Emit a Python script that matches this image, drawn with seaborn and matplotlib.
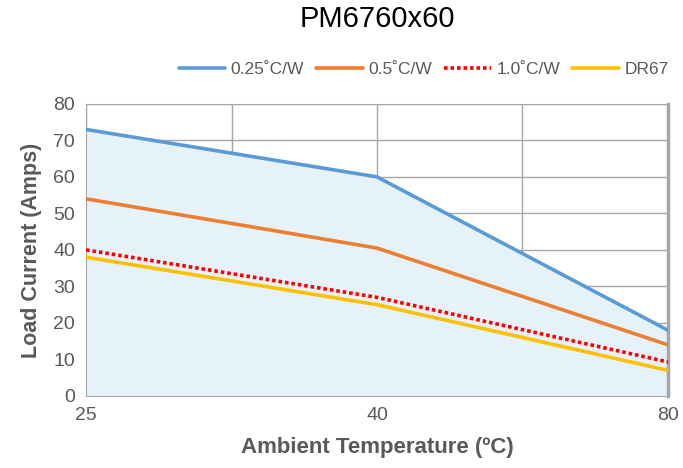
import matplotlib
matplotlib.use("Agg")
import matplotlib.pyplot as plt
import seaborn as sns
import pandas as pd

# data
temps = ["25", "40", "80"]
series_names = ["0.25˚C/W", "0.5˚C/W", "1.0˚C/W", "DR67"]
hs_025 = [73, 60, 18]
hs_05 = [54, 40.5, 14]
hs_10 = [40, 27, 9.3]
dr67 = [38, 25, 7]

colors = ["#5b9bd5", "#ed7d31", "#ff0000", "#ffc000"]

sns.set_style("white")
plt.rcParams["font.family"] = ["Liberation Sans", "DejaVu Sans"]

df = pd.DataFrame({"pos": range(len(temps))})
for name, vals in zip(series_names, [hs_025, hs_05, hs_10, dr67]):
    df[name] = vals
long = df.melt(id_vars="pos", var_name="series", value_name="amps")

fig = plt.figure(figsize=(6.83, 4.68), dpi=100)
ax = fig.add_axes([0.126, 0.154, 0.852, 0.624])

# shaded region under the 0.25 line
ax.fill_between(df["pos"], 0, df[series_names[0]], color="#e6f2fa", zorder=1)

for name, c in zip(series_names, colors):
    sub = long[long["series"] == name]
    if name == "1.0˚C/W":
        sns.lineplot(data=sub, x="pos", y="amps", ax=ax, color=c, lw=2.6,
                     linestyle=(0, (1, 0.8)), label=name, zorder=4)
    else:
        sns.lineplot(data=sub, x="pos", y="amps", ax=ax, color=c, lw=2.6,
                     label=name, zorder=3)

ax.set_xlim(0, 2)
ax.set_ylim(0, 80)
ax.set_xticks([0, 1, 2])
ax.set_xticklabels(temps)
ax.set_xticks([0.5, 1.5], minor=True)
ax.set_yticks(range(0, 81, 10))
ax.grid(True, which="both", color="#a6a6a6", lw=1, zorder=0)
ax.set_axisbelow(True)
for side in ["left", "top", "right", "bottom"]:
    ax.spines[side].set_color("#a6a6a6")
ax.spines["right"].set_linewidth(2.5)
ax.tick_params(axis="both", which="both", length=0, labelsize=14, colors="#595959", pad=8)

ax.set_xlabel("Ambient Temperature (ºC)", fontsize=16, fontweight="bold", color="#595959", labelpad=9)
ax.set_ylabel("Load Current (Amps)", fontsize=15.5, fontweight="bold", color="#595959", labelpad=8)

fig.suptitle("PM6760x60", x=0.552, y=0.99, fontsize=21, color="#000000")

ax.legend(loc="lower center", bbox_to_anchor=(0.58, 1.04), ncol=4, frameon=False,
          fontsize=12.5, handlelength=2.7, columnspacing=0.7, handletextpad=0.3,
          labelcolor="#595959")

fig.savefig("out.png", dpi=100)
